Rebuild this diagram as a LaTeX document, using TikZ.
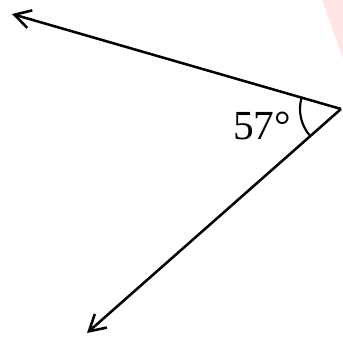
\documentclass[tikz,border=0pt]{standalone}
\usepackage{fontspec}
\setmainfont{Liberation Serif}
\usetikzlibrary{arrows.meta, calc}

\begin{document}
\begin{tikzpicture}[
        x=0.75pt, y=0.75pt,
        ray/.style={line width=1.9pt, -{Straight Barb[length=4.2mm, width=4.8mm, line width=1.9pt]}},
        anglearc/.style={line width=1.6pt},
        lbl/.style={font=\fontsize{31}{31}\selectfont, inner sep=0pt},
    ]
    \useasboundingbox (0,0) rectangle (343,339);

    % faint watermark
    \fill[red!10] (322,339) -- (343,339) -- (343,281) -- cycle;

    % points
    \coordinate (V) at (341,230);
    \coordinate (A) at (12,325);
    \coordinate (B) at (87,6);

    % rays
    \draw[ray] (V) -- (A);
    \draw[ray] (V) -- (B);

    % angle mark and label
    \draw[anglearc] ($(V)+(163.9:41)$) arc[start angle=163.9, end angle=221.4, radius=30.75pt];
    \node[lbl] (ang) at (262,213) {57°};
\end{tikzpicture}
\end{document}
